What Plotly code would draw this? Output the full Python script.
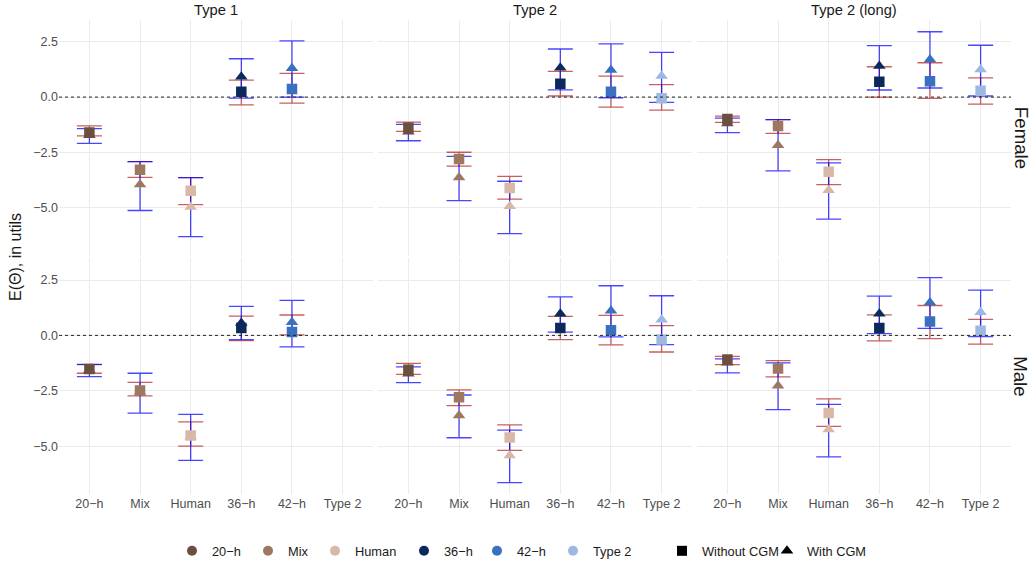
import plotly.graph_objects as go

# ---------------- data ----------------
categories = ["20−h", "Mix", "Human", "36−h", "42−h", "Type 2"]
cat_colors = ["#6B4F3F", "#9E7760", "#D9B8A8", "#0B2A5B", "#3A70C0", "#9DB8E3"]
panel_types = ["Type 1", "Type 2", "Type 2 (long)"]
genders = ["Female", "Male"]
shape_labels = ["Without CGM", "With CGM"]

# Female, Type 1
f_t1_wo_est = [-1.60, -3.28, -4.23, 0.24, 0.36, None]
f_t1_wo_lo = [-1.75, -3.62, -4.85, -0.35, -0.27, None]
f_t1_wo_hi = [-1.30, -2.91, -3.64, 0.77, 1.07, None]
f_t1_w_est = [-1.72, -3.95, -4.96, 0.92, 1.30, None]
f_t1_w_lo = [-2.09, -5.12, -6.30, -0.05, 0.00, None]
f_t1_w_hi = [-1.42, -2.91, -3.64, 1.73, 2.54, None]

# Female, Type 2
f_t2_wo_est = [-1.37, -2.79, -4.10, 0.60, 0.24, -0.05]
f_t2_wo_lo = [-1.55, -3.12, -4.61, 0.05, -0.45, -0.59]
f_t2_wo_hi = [-1.13, -2.49, -3.58, 1.16, 0.95, 0.56]
f_t2_w_est = [-1.57, -3.63, -4.93, 1.32, 1.22, 0.95]
f_t2_w_lo = [-1.97, -4.67, -6.16, 0.33, -0.03, -0.24]
f_t2_w_hi = [-1.23, -2.68, -3.80, 2.17, 2.40, 2.02]

# Female, Type 2 (long)
f_t2l_wo_est = [-0.99, -1.30, -3.37, 0.69, 0.72, 0.29]
f_t2l_wo_lo = [-1.14, -1.64, -3.95, 0.00, -0.06, -0.32]
f_t2l_wo_hi = [-0.86, -1.02, -2.82, 1.37, 1.55, 0.87]
f_t2l_w_est = [-1.19, -2.17, -4.20, 1.40, 1.70, 1.25]
f_t2l_w_lo = [-1.60, -3.33, -5.51, 0.32, 0.41, 0.05]
f_t2l_w_hi = [-0.95, -1.02, -2.97, 2.32, 2.95, 2.34]

# Male, Type 1
m_t1_wo_est = [-1.52, -2.49, -4.52, 0.33, 0.15, None]
m_t1_wo_lo = [-1.71, -2.73, -5.00, -0.24, 0.02, None]
m_t1_wo_hi = [-1.32, -2.12, -3.90, 0.87, 0.92, None]
m_t1_w_est = [-1.57, -2.56, -4.57, 0.56, 0.59, None]
m_t1_w_lo = [-1.86, -3.51, -5.64, -0.19, -0.52, None]
m_t1_w_hi = [-1.31, -1.71, -3.57, 1.31, 1.58, None]

# Male, Type 2
m_t2_wo_est = [-1.55, -2.79, -4.61, 0.33, 0.23, -0.19]
m_t2_wo_lo = [-1.76, -3.17, -5.19, -0.19, -0.43, -0.75]
m_t2_wo_hi = [-1.26, -2.46, -4.04, 0.86, 0.90, 0.44]
m_t2_w_est = [-1.73, -3.62, -5.42, 0.98, 1.11, 0.71]
m_t2_w_lo = [-2.13, -4.62, -6.65, 0.15, -0.07, -0.42]
m_t2_w_hi = [-1.42, -2.69, -4.28, 1.74, 2.24, 1.79]

# Male, Type 2 (long)
m_t2l_wo_est = [-1.09, -1.49, -3.50, 0.33, 0.63, 0.21]
m_t2l_wo_lo = [-1.32, -1.87, -4.11, -0.25, -0.15, -0.39]
m_t2l_wo_hi = [-0.95, -1.14, -2.87, 0.93, 1.35, 0.72]
m_t2l_w_est = [-1.24, -2.27, -4.25, 0.98, 1.49, 1.05]
m_t2l_w_lo = [-1.69, -3.35, -5.48, 0.08, 0.32, -0.06]
m_t2l_w_hi = [-1.06, -1.24, -3.11, 1.77, 2.61, 2.04]

y_tickvals = [2.5, 0.0, -2.5, -5.0]
y_ticktext = ["2.5", "0.0", "−2.5", "−5.0"]

panels = {
    (0, 0): (f_t1_wo_est, f_t1_wo_lo, f_t1_wo_hi, f_t1_w_est, f_t1_w_lo, f_t1_w_hi),
    (0, 1): (f_t2_wo_est, f_t2_wo_lo, f_t2_wo_hi, f_t2_w_est, f_t2_w_lo, f_t2_w_hi),
    (0, 2): (f_t2l_wo_est, f_t2l_wo_lo, f_t2l_wo_hi, f_t2l_w_est, f_t2l_w_lo, f_t2l_w_hi),
    (1, 0): (m_t1_wo_est, m_t1_wo_lo, m_t1_wo_hi, m_t1_w_est, m_t1_w_lo, m_t1_w_hi),
    (1, 1): (m_t2_wo_est, m_t2_wo_lo, m_t2_wo_hi, m_t2_w_est, m_t2_w_lo, m_t2_w_hi),
    (1, 2): (m_t2l_wo_est, m_t2l_wo_lo, m_t2l_wo_hi, m_t2l_w_est, m_t2l_w_lo, m_t2l_w_hi),
}

# ---------------- layout geometry ----------------
W, H = 1032, 565
ML, MR, MT, MB = 59, 21, 20, 71
PW = W - ML - MR
PH = H - MT - MB
panel_w = 314
gap_x = (PW - 3 * panel_w) / 2
panel_h = (PH - 2.6) / 2

x_domains = []
for c in range(3):
    x0 = c * (panel_w + gap_x) / PW
    x_domains.append([x0, min(1.0, x0 + panel_w / PW)])
y_domains = [[1 - panel_h / PH, 1.0], [0.0, panel_h / PH]]

FONT = "Liberation Sans, Arial, sans-serif"
RED = "rgba(178,34,34,0.72)"
BLUE = "rgba(0,0,255,0.72)"
GRID = "#EBEBEB"

xpos = list(range(len(categories)))

fig = go.Figure()
layout = {}


def errs(est, lo, hi):
    plus = [None if e is None else h - e for e, h in zip(est, hi)]
    minus = [None if e is None else e - l for e, l in zip(est, lo)]
    return plus, minus


for (r, c), (wo_e, wo_l, wo_h, w_e, w_l, w_h) in panels.items():
    idx = r * 3 + c + 1
    xa = "x" if idx == 1 else f"x{idx}"
    ya = "y" if idx == 1 else f"y{idx}"
    # error bars (red: without CGM, blue: with CGM)
    for est, lo, hi, col in ((wo_e, wo_l, wo_h, RED), (w_e, w_l, w_h, BLUE)):
        p, m = errs(est, lo, hi)
        fig.add_trace(go.Scatter(
            x=xpos, y=est, xaxis=xa, yaxis=ya, mode="markers",
            marker=dict(size=1, opacity=0), showlegend=False, hoverinfo="skip",
            error_y=dict(type="data", symmetric=False, array=p, arrayminus=m,
                         color=col, thickness=1.3, width=12.5)))
    # points
    fig.add_trace(go.Scatter(
        x=xpos, y=w_e, xaxis=xa, yaxis=ya, mode="markers", showlegend=False,
        marker=dict(symbol="triangle-up", size=11, color=cat_colors, line=dict(width=0))))
    fig.add_trace(go.Scatter(
        x=xpos, y=wo_e, xaxis=xa, yaxis=ya, mode="markers", showlegend=False,
        marker=dict(symbol="square", size=10.5, color=cat_colors, line=dict(width=0))))

    xkey = "xaxis" if idx == 1 else f"xaxis{idx}"
    ykey = "yaxis" if idx == 1 else f"yaxis{idx}"
    layout[xkey] = dict(
        domain=x_domains[c], anchor=ya, range=[-0.6, len(categories) - 0.4],
        tickvals=xpos, ticktext=categories, showticklabels=(r == 1),
        showgrid=True, gridcolor=GRID, gridwidth=1, zeroline=False,
        showline=False, ticks="", tickfont=dict(size=12.5, color="#4D4D4D", family=FONT))
    layout[ykey] = dict(
        domain=y_domains[r], anchor=xa, range=[-7.16, 3.48],
        tickvals=y_tickvals, ticktext=y_ticktext, showticklabels=(c == 0),
        showgrid=True, gridcolor=GRID, gridwidth=1, zeroline=False,
        showline=False, ticks="", tickfont=dict(size=12.5, color="#4D4D4D", family=FONT))
    fig.add_shape(type="line", xref=f"{xa} domain", yref=ya, x0=0, x1=1, y0=0, y1=0,
                  line=dict(color="#222222", width=1, dash="3px,3px"), layer="above")

# legend dummies (legendwidth only controls item spacing)
color_item_widths = [31, 22, 44, 28, 31, 50]
for cat, col, lw in zip(categories, cat_colors, color_item_widths):
    fig.add_trace(go.Scatter(x=[None], y=[None], mode="markers", name=cat, legend="legend",
                             legendwidth=lw, marker=dict(symbol="circle", size=10, color=col)))
fig.add_trace(go.Scatter(x=[None], y=[None], mode="markers", name=shape_labels[0], legend="legend2",
                         legendwidth=60, marker=dict(symbol="square", size=10, color="black")))
fig.add_trace(go.Scatter(x=[None], y=[None], mode="markers", name=shape_labels[1], legend="legend2",
                         legendwidth=60, marker=dict(symbol="triangle-up", size=11, color="black")))

annotations = []
for c, t in enumerate(panel_types):
    annotations.append(dict(text=t, xref="paper", yref="paper", xanchor="center",
                            x=(x_domains[c][0] + x_domains[c][1]) / 2, y=1, yanchor="middle",
                            yshift=10, showarrow=False,
                            font=dict(size=14.7, color="#1A1A1A", family=FONT)))
for r, g in enumerate(genders):
    annotations.append(dict(text=g, xref="paper", yref="paper", x=1, xanchor="center",
                            xshift=10, y=(y_domains[r][0] + y_domains[r][1]) / 2,
                            yanchor="middle", textangle=90, showarrow=False,
                            font=dict(size=18.7, color="#1A1A1A", family=FONT)))
annotations.append(dict(text="E(Θ), in utils", xref="paper", yref="paper", x=0, xanchor="center",
                        xshift=-44, y=0.5, yanchor="middle", textangle=-90, showarrow=False,
                        font=dict(size=16, color="#1A1A1A", family=FONT)))

leg_y = -57 / PH
leg_common = dict(orientation="h", xanchor="left", y=leg_y, yanchor="middle",
                  font=dict(size=12.8, color="#1A1A1A", family=FONT), bgcolor="rgba(0,0,0,0)")

fig.update_layout(
    width=W, height=H, margin=dict(l=ML, r=MR, t=MT, b=MB, autoexpand=False),
    plot_bgcolor="white", paper_bgcolor="white",
    font=dict(family=FONT, size=12.8, color="#1A1A1A"),
    annotations=annotations,
    legend=dict(x=(172 - ML) / PW, **leg_common),
    legend2=dict(x=(662 - ML) / PW, **leg_common),
    **layout,
)

fig.write_html("out.html")
